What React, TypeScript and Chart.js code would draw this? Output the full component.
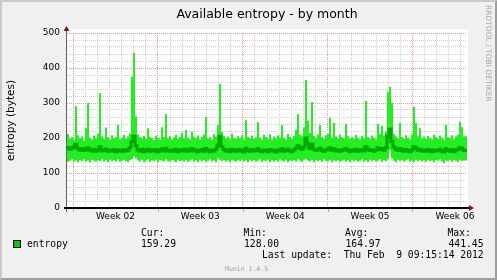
import React, { useEffect, useRef } from "react";
import { Chart, registerables } from "chart.js";

Chart.register(...registerables);

// ---- data (one value per ~2px column) ----
const maxValues = [
  205, 212, 198, 203, 196, 291, 208, 199, 204, 193, 228, 300, 201, 196, 207, 199, 212, 328, 205, 197,
  230, 202, 195, 208, 199, 203, 237, 196, 201, 209, 198, 204, 212, 375, 443, 262, 210, 203, 199, 206,
  197, 228, 203, 199, 194, 207, 201, 196, 231, 203, 268, 199, 205, 196, 202, 209, 197, 203, 215, 199,
  223, 201, 196, 218, 204, 199, 207, 195, 203, 210, 260, 198, 202, 196, 211, 204, 237, 354, 218, 206,
  199, 204, 196, 212, 201, 197, 205, 199, 208, 196, 251, 203, 199, 207, 197, 202, 246, 201, 196, 209,
  203, 198, 211, 196, 204, 199, 207, 202, 237, 200, 196, 212, 203, 198, 206, 223, 268, 210, 205, 231,
  366, 249, 215, 303, 206, 199, 210, 237, 203, 197, 208, 212, 257, 201, 243, 204, 198, 210, 202, 199,
  240, 205, 198, 203, 197, 209, 201, 196, 206, 199, 306, 203, 198, 207, 201, 196, 240, 212, 234, 207,
  219, 331, 346, 300, 212, 205, 199, 243, 203, 197, 208, 201, 196, 210, 289, 243, 205, 228, 199, 204,
  197, 206, 201, 196, 209, 203, 198, 207, 201, 196, 237, 203, 199, 208, 196, 204, 210, 246, 231, 205,
];

const minValues = [
  138, 132, 135, 140, 133, 136, 131, 137, 134, 139, 133, 136, 130, 138, 135, 132, 137, 134, 140, 133,
  136, 131, 138, 134, 137, 133, 139, 132, 135, 138, 134, 131, 137, 140, 148, 142, 136, 133, 138, 131,
  135, 139, 132, 136, 134, 138, 131, 137, 135, 133, 139, 134, 132, 137, 135, 131, 138, 134, 136, 133,
  137, 132, 135, 139, 133, 136, 131, 138, 134, 137, 132, 135, 139, 133, 136, 131, 142, 138, 134, 137,
  133, 136, 131, 138, 135, 132, 137, 134, 139, 133, 136, 131, 138, 134, 137, 133, 135, 139, 132, 136,
  134, 138, 131, 136, 133, 137, 132, 139, 135, 133, 138, 131, 136, 134, 137, 133, 139, 135, 132, 138,
  141, 136, 133, 138, 131, 136, 134, 137, 132, 139, 135, 133, 138, 131, 136, 134, 137, 132, 135, 138,
  133, 136, 131, 138, 134, 137, 132, 135, 139, 133, 136, 131, 138, 134, 137, 133, 135, 139, 132, 136,
  134, 140, 165, 142, 135, 131, 138, 134, 137, 132, 136, 139, 133, 135, 131, 138, 134, 137, 133, 136,
  132, 138, 134, 136, 131, 137, 135, 139, 133, 128, 136, 134, 138, 132, 137, 135, 131, 138, 134, 136,
];

const avgValues = [
  170, 173, 168, 171, 175, 182, 170, 166, 169, 164, 167, 172, 165, 163, 168, 162, 166, 175, 163, 165,
  168, 162, 165, 163, 167, 161, 166, 164, 162, 167, 163, 165, 172, 190, 205, 178, 166, 163, 168, 161,
  165, 168, 162, 166, 163, 167, 161, 165, 169, 163, 171, 164, 162, 166, 163, 168, 161, 165, 167, 163,
  168, 162, 165, 170, 163, 166, 161, 164, 167, 162, 170, 165, 161, 166, 163, 168, 180, 205, 176, 167,
  163, 166, 161, 168, 164, 162, 167, 163, 166, 160, 171, 164, 162, 167, 163, 165, 170, 163, 161, 166,
  164, 161, 167, 163, 165, 160, 166, 163, 169, 162, 164, 168, 163, 161, 166, 171, 178, 172, 168, 174,
  200, 184, 170, 182, 168, 165, 167, 171, 164, 162, 166, 168, 172, 165, 169, 163, 166, 162, 165, 167,
  170, 164, 161, 166, 163, 168, 162, 165, 167, 163, 176, 168, 164, 166, 162, 165, 172, 167, 170, 165,
  172, 205, 225, 190, 174, 168, 165, 170, 164, 162, 167, 164, 161, 166, 176, 172, 165, 168, 163, 166,
  162, 167, 164, 161, 166, 163, 165, 168, 162, 160, 169, 164, 162, 167, 161, 165, 168, 172, 170, 164,
];

const spanHours = 792; // 33 days shown
const firstWeekHour = 12; // first week boundary after graph start
const weekLabels = ["Week 02", "Week 03", "Week 04", "Week 05", "Week 06"];
const yMin = 0;
const yMax = 500;
const yGridStep = 20;
const yLabelStep = 100;

const seriesName = "entropy";
const statHeaders = ["Cur:", "Min:", "Avg:", "Max:"];
const statValues = ["159.29", "128.00", "164.97", "441.45"];
const lastUpdate = "Last update:  Thu Feb  9 09:15:14 2012";

const MAJOR = "rgb(228,150,150)";
const MINOR = "rgb(208,208,208)";
const BAND = "#22ee22";
const LINE = "#00a800";

function toPoints(arr: number[]) {
  const step = spanHours / arr.length;
  const pts = arr.map((v, i) => ({ x: i * step, y: v }));
  pts.push({ x: spanHours, y: arr[arr.length - 1] });
  return pts;
}

function weekIndexForLabel(v: number) {
  const k = (v - firstWeekHour - 84) / 168;
  return Number.isInteger(k) && k >= 0 && k < weekLabels.length ? k : -1;
}

const muninPlugin = {
  id: "muninDecor",
  beforeDraw(chart: any) {
    const { ctx, chartArea: a } = chart;
    ctx.save();
    ctx.fillStyle = "#ffffff";
    ctx.fillRect(a.left, a.top - 4, a.right - a.left + 1, a.bottom - a.top + 4);
    ctx.restore();
  },
  afterDatasetsDraw(chart: any) {
    const { ctx, chartArea: a, scales } = chart;
    const y0 = scales.y.getPixelForValue(0);
    ctx.save();
    ctx.strokeStyle = MAJOR;
    ctx.lineWidth = 1;
    for (let h = firstWeekHour; h <= spanHours; h += 168) {
      const px = Math.round(scales.x.getPixelForValue(h)) + 0.5;
      ctx.beginPath();
      ctx.moveTo(px, y0);
      ctx.lineTo(px, y0 + 4);
      ctx.stroke();
    }
    ctx.strokeStyle = "#606060";
    ctx.lineWidth = 1;
    ctx.beginPath();
    ctx.moveTo(a.left - 0.5, y0 + 4);
    ctx.lineTo(a.left - 0.5, a.top - 3);
    ctx.stroke();
    ctx.strokeStyle = "#000000";
    ctx.lineWidth = 2;
    ctx.beginPath();
    ctx.moveTo(a.left - 3, y0);
    ctx.lineTo(a.right + 2, y0);
    ctx.stroke();
    ctx.fillStyle = "#8a1414";
    ctx.beginPath();
    ctx.moveTo(a.left - 0.5, a.top - 7);
    ctx.lineTo(a.left - 3.5, a.top - 2);
    ctx.lineTo(a.left + 2.5, a.top - 2);
    ctx.closePath();
    ctx.fill();
    ctx.beginPath();
    ctx.moveTo(a.right + 7, y0);
    ctx.lineTo(a.right + 2, y0 - 3);
    ctx.lineTo(a.right + 2, y0 + 3);
    ctx.closePath();
    ctx.fill();
    ctx.restore();
  },
};

function Txt(props: {
  x: number;
  base: number;
  size: number;
  mono?: boolean;
  color?: string;
  width?: number;
  align?: "left" | "center" | "right";
  children: React.ReactNode;
}) {
  const { x, base, size, mono, color, width, align, children } = props;
  return (
    <div
      style={{
        position: "absolute",
        left: x,
        top: base - 0.846 * size,
        width: width,
        textAlign: align || "left",
        fontFamily: mono ? "'DejaVu Sans Mono', monospace" : "'DejaVu Sans', sans-serif",
        fontSize: size,
        lineHeight: `${size}px`,
        color: color || "#000",
        whiteSpace: "pre",
      }}
    >
      {children}
    </div>
  );
}

export default function App() {
  const canvasRef = useRef<HTMLCanvasElement | null>(null);

  useEffect(() => {
    if (!canvasRef.current) return;
    const chart = new Chart(canvasRef.current, {
      type: "line",
      data: {
        datasets: [
          {
            label: "max",
            data: toPoints(maxValues),
            stepped: "after",
            borderWidth: 0,
            borderColor: "rgba(0,0,0,0)",
            backgroundColor: BAND,
            pointRadius: 0,
            fill: "+1",
            order: 1,
          },
          {
            label: "min",
            data: toPoints(minValues),
            stepped: "after",
            borderWidth: 0,
            borderColor: "rgba(0,0,0,0)",
            pointRadius: 0,
            fill: false,
            order: 2,
          },
          {
            label: seriesName,
            data: toPoints(avgValues),
            stepped: "after",
            borderWidth: 3,
            borderColor: LINE,
            pointRadius: 0,
            fill: false,
            order: 0,
          },
        ],
      } as any,
      options: {
        animation: false,
        responsive: false,
        maintainAspectRatio: false,
        events: [],
        layout: { padding: { left: 0, top: 33, right: 30, bottom: 0 } },
        plugins: {
          legend: { display: false },
          tooltip: { enabled: false },
          title: { display: false },
        },
        scales: {
          x: {
            type: "linear",
            min: 0,
            max: spanHours,
            afterBuildTicks: (scale: any) => {
              const t: { value: number }[] = [];
              for (let h = firstWeekHour; h <= spanHours; h += 24) t.push({ value: h });
              weekLabels.forEach((_, k) => t.push({ value: firstWeekHour + 84 + 168 * k }));
              t.sort((p, q) => p.value - q.value);
              scale.ticks = t;
            },
            afterFit: (scale: any) => {
              scale.height = 72;
            },
            grid: {
              drawTicks: false,
              lineWidth: 1,
              color: (ctx: any) => {
                const v = ctx.tick ? ctx.tick.value : 0;
                if (weekIndexForLabel(v) >= 0) return "rgba(0,0,0,0)";
                return (v - firstWeekHour) % 168 === 0 ? MAJOR : MINOR;
              },
            },
            border: { display: false, dash: [1, 1] },
            ticks: {
              autoSkip: false,
              maxRotation: 0,
              minRotation: 0,
              padding: 3,
              color: "#000",
              font: { family: "'DejaVu Sans', sans-serif", size: 9 },
              callback: (value: any) => {
                const k = weekIndexForLabel(Number(value));
                return k >= 0 ? weekLabels[k] : "";
              },
            },
          },
          y: {
            type: "linear",
            min: yMin,
            max: yMax,
            afterFit: (scale: any) => {
              scale.width = 67;
            },
            grid: {
              drawTicks: false,
              lineWidth: 1,
              color: (ctx: any) => {
                const v = ctx.tick ? ctx.tick.value : 0;
                return v % yLabelStep === 0 ? MAJOR : MINOR;
              },
            },
            border: { display: false, dash: [1, 1] },
            ticks: {
              stepSize: yGridStep,
              autoSkip: false,
              padding: 7,
              color: "#000",
              font: { family: "'DejaVu Sans', sans-serif", size: 9 },
              callback: (value: any) => (Number(value) % yLabelStep === 0 ? String(value) : ""),
            },
            title: {
              display: true,
              text: "entropy (bytes)",
              color: "#000",
              padding: { top: 5, bottom: 0 },
              font: { family: "'DejaVu Sans', sans-serif", size: 10.5 },
            },
          },
        },
      } as any,
      plugins: [muninPlugin],
    });
    return () => chart.destroy();
  }, []);

  const headerX = [141, 243.5, 345, 447.5];
  const valueX = [141, 244, 345.5];

  return (
    <div
      style={{
        position: "absolute",
        left: 0,
        top: 0,
        width: 497,
        height: 280,
        background: "#f0f0f0",
        overflow: "hidden",
      }}
    >
      <div
        style={{
          position: "absolute",
          left: 0,
          top: 0,
          width: 497,
          height: 280,
          boxSizing: "border-box",
          borderTop: "2px solid #cacaca",
          borderLeft: "2px solid #cacaca",
          borderRight: "2px solid #9e9e9e",
          borderBottom: "2px solid #9e9e9e",
        }}
      />
      <canvas
        ref={canvasRef}
        width={497}
        height={280}
        style={{ position: "absolute", left: 0, top: 0, width: 497, height: 280 }}
      />
      <Txt x={67} width={400} align="center" base={18.3} size={12.5}>
        Available entropy - by month
      </Txt>
      <div
        style={{
          position: "absolute",
          left: 484,
          top: 5,
          writingMode: "vertical-rl",
          fontFamily: "'DejaVu Sans', sans-serif",
          fontSize: 7.5,
          lineHeight: "7.5px",
          color: "#a8a8a8",
          whiteSpace: "pre",
        }}
      >
        RRDTOOL / TOBI OETIKER
      </div>
      {statHeaders.map((h, i) => (
        <Txt key={h} x={headerX[i]} base={235.8} size={9.7} mono>
          {h}
        </Txt>
      ))}
      <div
        style={{
          position: "absolute",
          left: 13,
          top: 240,
          width: 8,
          height: 8,
          boxSizing: "border-box",
          background: "#00cc00",
          border: "1px solid #000",
        }}
      />
      <Txt x={27} base={247.7} size={9.7} mono>
        {seriesName}
      </Txt>
      {valueX.map((x, i) => (
        <Txt key={i} x={x} base={247.7} size={9.7} mono>
          {statValues[i]}
        </Txt>
      ))}
      <Txt x={383.5} width={100} align="right" base={247.7} size={9.7} mono>
        {statValues[3]}
      </Txt>
      <Txt x={262} base={257.8} size={9.7} mono>
        {lastUpdate}
      </Txt>
      <Txt x={225} base={271.7} size={6.5} mono color="#a0a0a0">
        Munin 1.4.5
      </Txt>
    </div>
  );
}
